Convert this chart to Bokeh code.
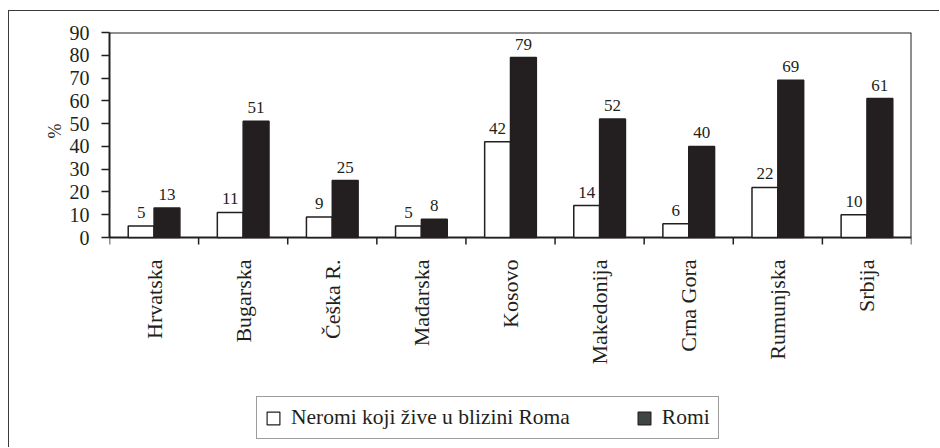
from bokeh.plotting import figure
from bokeh.models import (ColumnDataSource, Range1d, FixedTicker, Legend, LegendItem, Title)
from bokeh.core.properties import value
from bokeh.embed import file_html
from bokeh.resources import INLINE
import math

categories = ["Hrvatska", "Bugarska", "Češka R.", "Mađarska", "Kosovo",
              "Makedonija", "Crna Gora", "Rumunjska", "Srbija"]
neromi = [5, 11, 9, 5, 42, 14, 6, 22, 10]
romi = [13, 51, 25, 8, 79, 52, 40, 69, 61]
y_ticks = [0, 10, 20, 30, 40, 50, 60, 70, 80, 90]
series_names = ["Neromi koji žive u blizini Roma", "Romi"]

FONT = "Liberation Serif"
INK = "#231f20"
BW = 0.29
Y_MAX = 90
N = len(categories)

FRAME_W, FRAME_H = 802, 415     # frame reaches down to the legend
CHART_H = 205                   # pixel height of the 0..90 value area
PX = CHART_H / Y_MAX            # pixels per unit
Y_MIN = -(FRAME_H - CHART_H) / PX

centers = [i + 0.5 for i in range(N)]
src = ColumnDataSource(dict(
    xn=[c - BW / 2 for c in centers],
    xr=[c + BW / 2 for c in centers],
    n=neromi, r=romi,
    nl=[str(v) for v in neromi], rl=[str(v) for v in romi],
))

p = figure(frame_width=FRAME_W, frame_height=FRAME_H, output_backend="svg",
           toolbar_location=None,
           x_range=Range1d(0, N), y_range=Range1d(Y_MIN, Y_MAX),
           min_border_left=100, min_border_right=28, min_border_top=21,
           min_border_bottom=0)
p.styles = {"margin-left": "8px", "margin-top": "10px",
            "border-top": "1.5px solid #3a3a3a", "border-left": "1.5px solid #3a3a3a"}

p.grid.visible = False
p.xaxis.visible = False
p.outline_line_color = None
p.background_fill_color = "white"
p.border_fill_color = "white"

# chart box: top and right edges, x axis line and boundary ticks
p.line(x=[0, N, N], y=[Y_MAX, Y_MAX, 0], line_color=INK, line_width=2)
p.line(x=[0, N], y=[0, 0], line_color=INK, line_width=2)
bounds = list(range(N + 1))
p.segment(x0=bounds, y0=[0] * len(bounds), x1=bounds, y1=[-7 / PX] * len(bounds),
          line_color=INK, line_width=1.5)

rn = p.vbar(x="xn", top="n", bottom=0, width=BW, source=src,
            fill_color="white", line_color=INK, line_width=1.5)
rr = p.vbar(x="xr", top="r", bottom=0, width=BW, source=src,
            fill_color=INK, line_color=INK, line_width=1.5)

for xcol, ycol, tcol in (("xn", "n", "nl"), ("xr", "r", "rl")):
    p.text(x=xcol, y=ycol, text=tcol, source=src, text_align="center",
           text_baseline="bottom", y_offset=-8, text_color=INK,
           text_font=value(FONT), text_font_size="17px")

# category labels, rotated, ending just below the axis
p.text(x=centers, y=[-22 / PX] * N, text=categories, angle=math.pi / 2,
       text_align="right", text_baseline="middle", text_color=INK,
       text_font=value(FONT), text_font_size="22px")

# y axis
ya = p.yaxis[0]
ya.bounds = (0, Y_MAX)
ya.ticker = FixedTicker(ticks=y_ticks, minor_ticks=[])
ya.axis_line_color = INK
ya.axis_line_width = 2
ya.major_tick_out = 8
ya.major_tick_in = 0
ya.major_tick_line_color = INK
ya.major_tick_line_width = 1.5
ya.major_label_text_font = FONT
ya.major_label_text_font_size = "20px"
ya.major_label_text_color = INK
ya.major_label_standoff = 12

ytitle = Title(text="%", align="left", offset=FRAME_H - CHART_H + 99,
               text_font=FONT, text_font_size="18px", text_font_style="normal",
               text_color=INK, standoff=4)
p.add_layout(ytitle, "left")

# legend with its own swatches (dummy points kept outside the visible range)
ln = p.vbar(x=[-5], top=[1], width=BW, fill_color="white", line_color=INK, line_width=1.2)
lr = p.vbar(x=[-5], top=[1], width=BW, fill_color="#3d4545", line_color=INK, line_width=1.2)
legend = Legend(items=[LegendItem(label=series_names[0], renderers=[ln]),
                       LegendItem(label=series_names[1], renderers=[lr])],
                orientation="horizontal", location=(147, 8),
                glyph_width=16, glyph_height=16, label_standoff=10, spacing=66,
                padding=8, label_height=20, label_text_font=FONT,
                label_text_font_size="21.5px", label_text_color=INK,
                border_line_color="#3a3a3a", border_line_width=1.5,
                background_fill_color="white", background_fill_alpha=1,
                margin=0)
p.add_layout(legend, "center")

open("out.html", "w").write(file_html(p, INLINE))
